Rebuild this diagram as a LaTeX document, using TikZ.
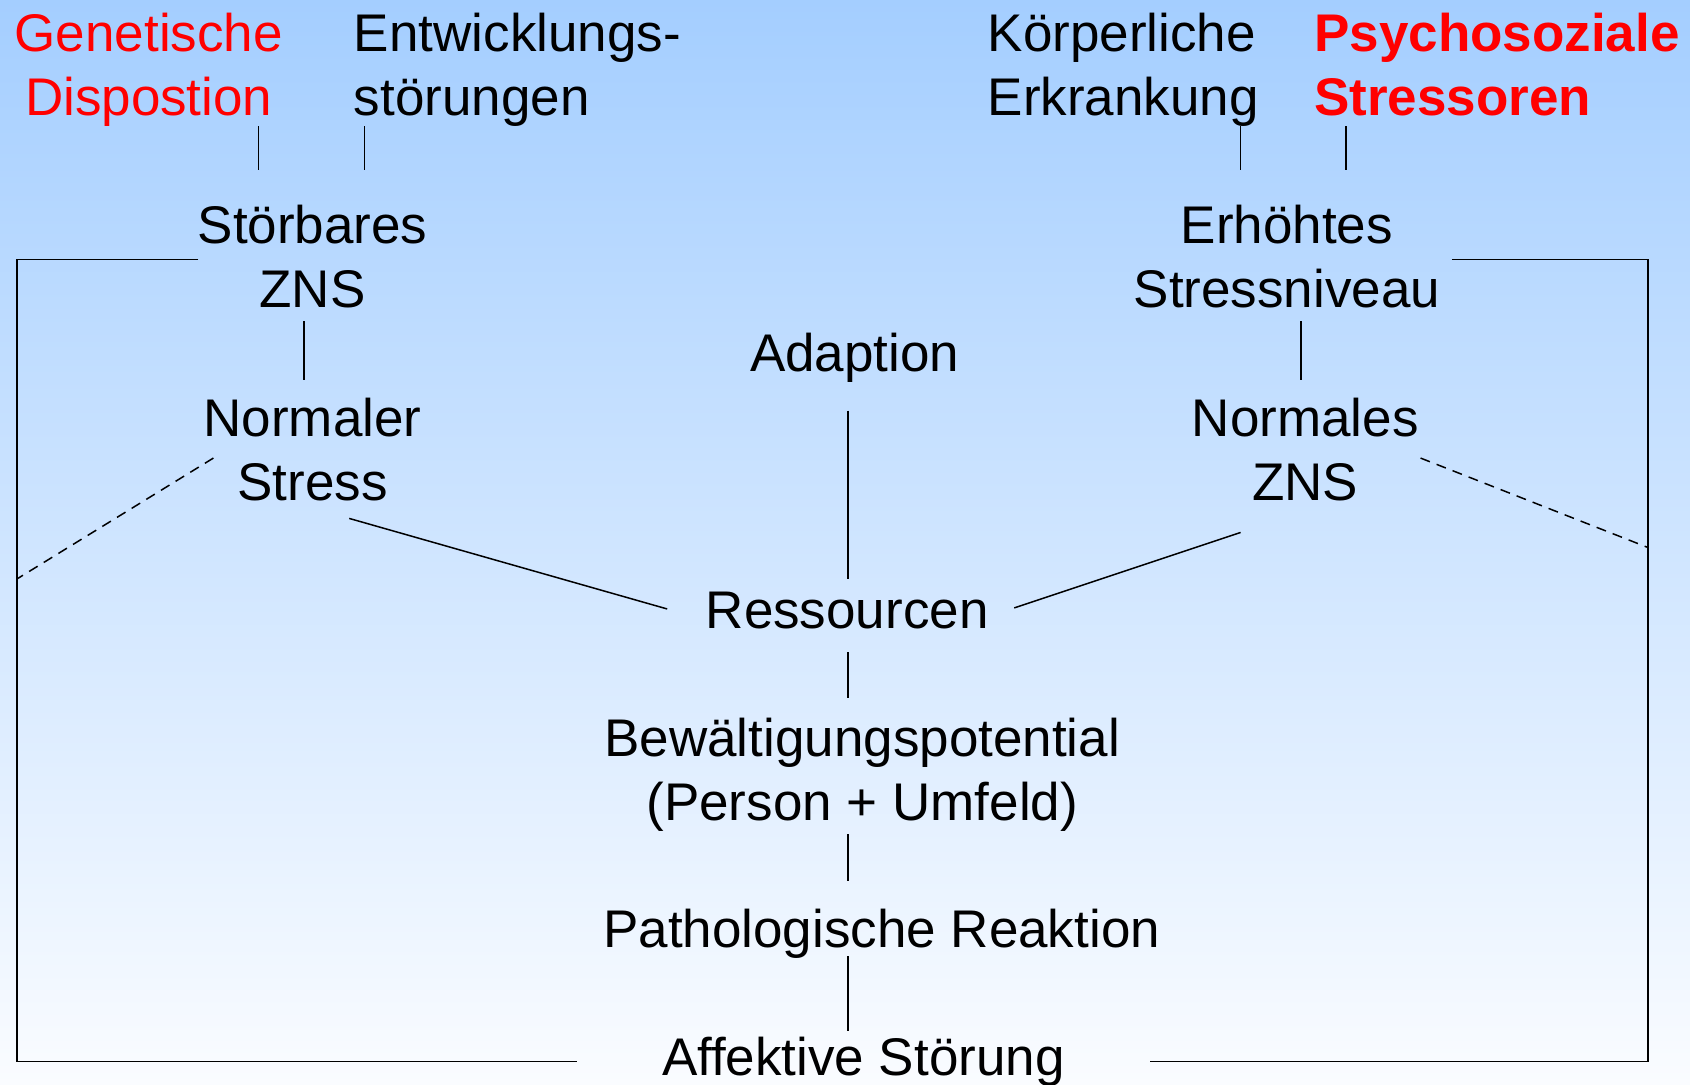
\documentclass[tikz,border=0pt]{standalone}
\usepackage{fontspec}
\setmainfont{Liberation Sans}
\definecolor{topc}{RGB}{164,206,255}
\definecolor{botc}{RGB}{250,252,255}
\definecolor{redc}{RGB}{255,0,0}
\begin{document}
\begin{tikzpicture}[x=0.5389pt,y=-0.5389pt,
  lbl/.style={font=\fontsize{26.5}{31.8}\selectfont, inner sep=0pt, align=center, anchor=base},
  lblL/.style={lbl, align=left, anchor=base west},
  con/.style={line width=0.75pt, black},
  dsh/.style={con, dash pattern=on 5pt off 3.6pt}]
\shade[top color=topc, bottom color=botc] (0,0) rectangle (1568,1006);
\useasboundingbox (0,0) rectangle (1568,1006);
% nodes (base anchor = baseline of last line)
\node[lbl, text=redc] (gen) at (138,107) {Genetische\\Dispostion};
\node[lblL] (entw) at (328,107) {Entwicklungs-\\störungen};
\node[lblL] (koerp) at (916,107) {Körperliche\\Erkrankung};
\node[lblL, text=redc, font=\fontsize{26.5}{31.8}\selectfont\bfseries] (psych) at (1219,107) {Psychosoziale\\Stressoren};
\node[lbl] (stoer) at (290,285) {Störbares\\ZNS};
\node[lbl] (erh) at (1194,285) {Erhöhtes\\Stressniveau};
\node[lbl] (adap) at (793,345) {Adaption};
\node[lbl] (nstress) at (290,464) {Normaler\\Stress};
\node[lbl] (nzns) at (1211,464) {Normales\\ZNS};
\node[lbl] (ress) at (786,583) {Ressourcen};
\node[lbl] (bew) at (800,761) {Bewältigungspotential\\(Person + Umfeld)};
\node[lbl] (path) at (818,879) {Pathologische Reaktion};
\node[lbl] (aff) at (801,998) {Affektive Störung};
% connector endpoints
\coordinate (g1) at (240,117); \coordinate (g2) at (240,158);
\coordinate (e1) at (338,117); \coordinate (e2) at (338,158);
\coordinate (k1) at (1151,117); \coordinate (k2) at (1151,158);
\coordinate (p1) at (1249,117); \coordinate (p2) at (1249,158);
\coordinate (s1) at (282,298); \coordinate (s2) at (282,353);
\coordinate (h1) at (1207,298); \coordinate (h2) at (1207,353);
\coordinate (a1) at (787,381); \coordinate (a2) at (787,537);
\coordinate (ns1) at (324,481); \coordinate (ns2) at (619,565);
\coordinate (nz1) at (1151,494); \coordinate (nz2) at (941,564);
\coordinate (r1) at (787,605); \coordinate (r2) at (787,648);
\coordinate (b1) at (787,774); \coordinate (b2) at (787,817);
\coordinate (pa1) at (787,887); \coordinate (pa2) at (787,957);
\coordinate (lt) at (184,241); \coordinate (ltc) at (16,241); \coordinate (lbc) at (16,985); \coordinate (lb) at (535,985);
\coordinate (rt) at (1347,241); \coordinate (rtc) at (1529,241); \coordinate (rbc) at (1529,985); \coordinate (rb) at (1067,985);
\coordinate (ld1) at (198,425); \coordinate (ld2) at (16,537);
\coordinate (rd1) at (1318,425); \coordinate (rd2) at (1529,508);
% connectors
\draw[con] (g1) -- (g2);
\draw[con] (e1) -- (e2);
\draw[con] (k1) -- (k2);
\draw[con] (p1) -- (p2);
\draw[con] (s1) -- (s2);
\draw[con] (h1) -- (h2);
\draw[con] (a1) -- (a2);
\draw[con] (ns1) -- (ns2);
\draw[con] (nz1) -- (nz2);
\draw[con] (r1) -- (r2);
\draw[con] (b1) -- (b2);
\draw[con] (pa1) -- (pa2);
\draw[con] (lt) -- (ltc) -- (lbc) -- (lb);
\draw[con] (rt) -- (rtc) -- (rbc) -- (rb);
\draw[dsh] (ld1) -- (ld2);
\draw[dsh] (rd1) -- (rd2);
\end{tikzpicture}
\end{document}
